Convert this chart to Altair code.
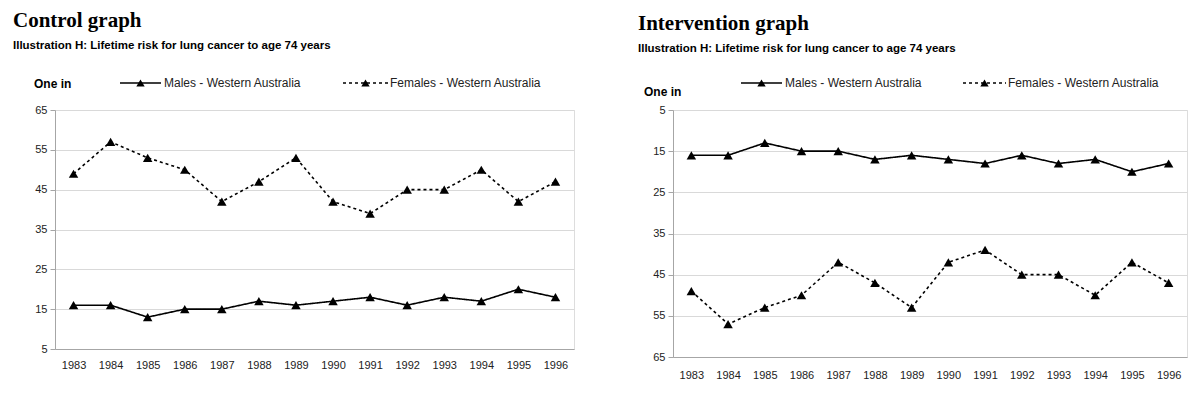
import altair as alt
import pandas as pd

years = [1983, 1984, 1985, 1986, 1987, 1988, 1989, 1990, 1991, 1992, 1993, 1994, 1995, 1996]
males = [16, 16, 13, 15, 15, 17, 16, 17, 18, 16, 18, 17, 20, 18]
females = [49, 57, 53, 50, 42, 47, 53, 42, 39, 45, 45, 50, 42, 47]
series_names = ["Males - Western Australia", "Females - Western Australia"]
y_ticks = [5, 15, 25, 35, 45, 55, 65]
subtitle_text = "Illustration H: Lifetime risk for lung cancer to age 74 years"

rows = []
for yr, m, f in zip(years, males, females):
    rows.append({"year": str(yr), "value": m, "series": series_names[0]})
    rows.append({"year": str(yr), "value": f, "series": series_names[1]})
df = pd.DataFrame(rows)

GRID = "#d9d9d9"
DOMAIN = "#a6a6a6"
FONT = "Liberation Sans"


def panel(title, reverse, w, h, title_dx, title_offset, leg_y, onein_x, onein_y, lx):
    base = alt.Chart(df)
    x = alt.X("year:O", title=None,
              scale=alt.Scale(type="point", padding=0.5),
              axis=alt.Axis(labelAngle=0, ticks=False, domain=True, domainColor=DOMAIN,
                            labelFont=FONT, labelFontSize=11, labelColor="#222",
                            labelPadding=10 if not reverse else 12, grid=False))
    y = alt.Y("value:Q", title=None,
              scale=alt.Scale(domain=[5, 65], reverse=reverse, nice=False, zero=False),
              axis=alt.Axis(values=y_ticks, grid=True, gridColor=GRID, domainColor=DOMAIN,
                            tickColor=DOMAIN, tickSize=5, labelPadding=3,
                            labelFont=FONT, labelFontSize=11, labelColor="#222"))
    dash = alt.StrokeDash("series:N",
                          scale=alt.Scale(domain=series_names, range=[[1, 0], [3, 3]]),
                          legend=None)
    lines = base.mark_line(color="black", strokeWidth=1.6).encode(x=x, y=y, strokeDash=dash, detail="series:N")
    pts = base.mark_point(shape="triangle-up", filled=True, size=90, color="black", opacity=1).encode(
        x=x, y=y, detail="series:N")

    one = alt.Data(values=[{}])
    onein = alt.Chart(one).mark_text(text="One in", font=FONT, fontSize=12, fontWeight="bold",
                                     align="left", baseline="middle", color="black").encode(
        x=alt.value(onein_x), y=alt.value(onein_y))
    layers = [lines, pts, onein]
    # legend glyphs
    for i, name in enumerate(series_names):
        x0, x1, tx = lx[i]
        rule = alt.Chart(one).mark_rule(color="black", strokeWidth=1.6,
                                        strokeDash=[1, 0] if i == 0 else [3, 3]).encode(
            x=alt.value(x0), x2=alt.value(x1), y=alt.value(leg_y))
        tri = alt.Chart(one).mark_point(shape="triangle-up", filled=True, size=70, color="black",
                                        opacity=1).encode(
            x=alt.value((x0 + x1) / 2), y=alt.value(leg_y))
        txt = alt.Chart(one).mark_text(text=name, font=FONT, fontSize=12, align="left",
                                       baseline="middle", color="#222").encode(
            x=alt.value(tx), y=alt.value(leg_y))
        layers += [rule, tri, txt]

    return alt.layer(*layers).properties(
        width=w, height=h,
        title=alt.TitleParams(text=title, subtitle=subtitle_text, anchor="start", frame="group",
                              dx=title_dx, offset=title_offset,
                              font="Liberation Serif", fontSize=21, fontWeight="bold", color="black",
                              subtitleFont=FONT, subtitleFontSize=11.5, subtitleFontWeight="bold",
                              subtitleColor="black", subtitlePadding=9))


left = panel("Control graph", False, 519, 239, -42, 26, -27, -21, -26,
             [(65, 106, 109), (288, 333, 335)])
right = panel("Intervention graph", True, 514, 247, -35, 23, -27, -29, -18,
              [(68, 109, 112), (290, 333, 335)])

chart = alt.concat(left, right, columns=2, spacing=62, align="none").properties(
    padding={"left": 4, "top": 1, "right": 0, "bottom": 0}
).configure_view(stroke=DOMAIN, strokeWidth=1).configure(background="white")

chart.save("out.html", embed_options={"renderer": "svg", "actions": False})
